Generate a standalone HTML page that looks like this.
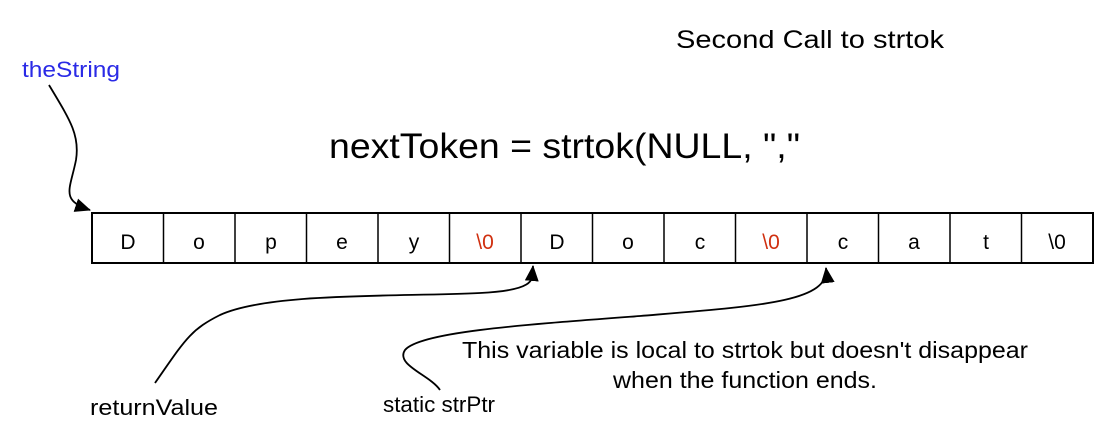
<!DOCTYPE html>
<html><head><style>
body{margin:0;width:1106px;height:441px;background:#fff;overflow:hidden;font-family:"Liberation Sans",sans-serif;}
svg{position:absolute;left:0;top:0}
</style></head><body>
<svg width="1106" height="441" viewBox="0 0 1106 441" font-family="Liberation Sans, sans-serif">
<defs><marker id="b" markerWidth="16" markerHeight="14" refX="15" refY="7" orient="auto" markerUnits="userSpaceOnUse"><path d="M0,0 L16,7 L0,14 Z" fill="#000"/></marker></defs>
<text x="676" y="48" font-size="25" textLength="268" lengthAdjust="spacingAndGlyphs">Second Call to strtok</text>
<text x="22" y="77" font-size="22" fill="#2a2ae6" textLength="98" lengthAdjust="spacingAndGlyphs">theString</text>
<text x="329" y="158" font-size="35" textLength="471" lengthAdjust="spacingAndGlyphs">nextToken = strtok(NULL, ","</text>
<rect x="92" y="213" width="1001" height="50" stroke="#000" stroke-width="2" fill="none"/>
<g stroke="#000" stroke-width="1.5">
<line x1="163.5" y1="213" x2="163.5" y2="263"/><line x1="235" y1="213" x2="235" y2="263"/><line x1="306.5" y1="213" x2="306.5" y2="263"/><line x1="378" y1="213" x2="378" y2="263"/><line x1="449.5" y1="213" x2="449.5" y2="263"/><line x1="521" y1="213" x2="521" y2="263"/><line x1="592.5" y1="213" x2="592.5" y2="263"/><line x1="664" y1="213" x2="664" y2="263"/><line x1="735.5" y1="213" x2="735.5" y2="263"/><line x1="807" y1="213" x2="807" y2="263"/><line x1="878.5" y1="213" x2="878.5" y2="263"/><line x1="950" y1="213" x2="950" y2="263"/><line x1="1021.5" y1="213" x2="1021.5" y2="263"/>
</g>
<g font-size="21" text-anchor="middle">
<text x="128" y="249">D</text><text x="199" y="249">o</text><text x="271" y="249">p</text><text x="342" y="249">e</text><text x="414" y="249">y</text><text x="485" y="249" fill="#d03010">\0</text><text x="557" y="249">D</text><text x="628" y="249">o</text><text x="700" y="249">c</text><text x="771" y="249" fill="#d03010">\0</text><text x="843" y="249">c</text><text x="914" y="249">a</text><text x="986" y="249">t</text><text x="1057" y="249">\0</text>
</g>
<g stroke="#000" stroke-width="1.8" fill="none">
<path d="M49,85 C70,120 80,135 76,160 C70,190 60,200 90,210" marker-end="url(#b)"/>
<path d="M155,383 C185,340 190,330 220,315 C270,292 400,297 480,293 C540,290 532,278 533,266" marker-end="url(#b)"/>
<path d="M440,390 C430,375 395,365 405,350 C420,332 520,325 640,316 C760,306 830,302 826,268" marker-end="url(#b)"/>
</g>
<text x="462" y="358" font-size="23" textLength="566" lengthAdjust="spacingAndGlyphs">This variable is local to strtok but doesn't disappear</text>
<text x="613" y="388" font-size="23" textLength="264" lengthAdjust="spacingAndGlyphs">when the function ends.</text>
<text x="90" y="415" font-size="22" textLength="128" lengthAdjust="spacingAndGlyphs">returnValue</text>
<text x="383" y="412" font-size="22" textLength="112" lengthAdjust="spacingAndGlyphs">static strPtr</text>
</svg>
</body></html>
